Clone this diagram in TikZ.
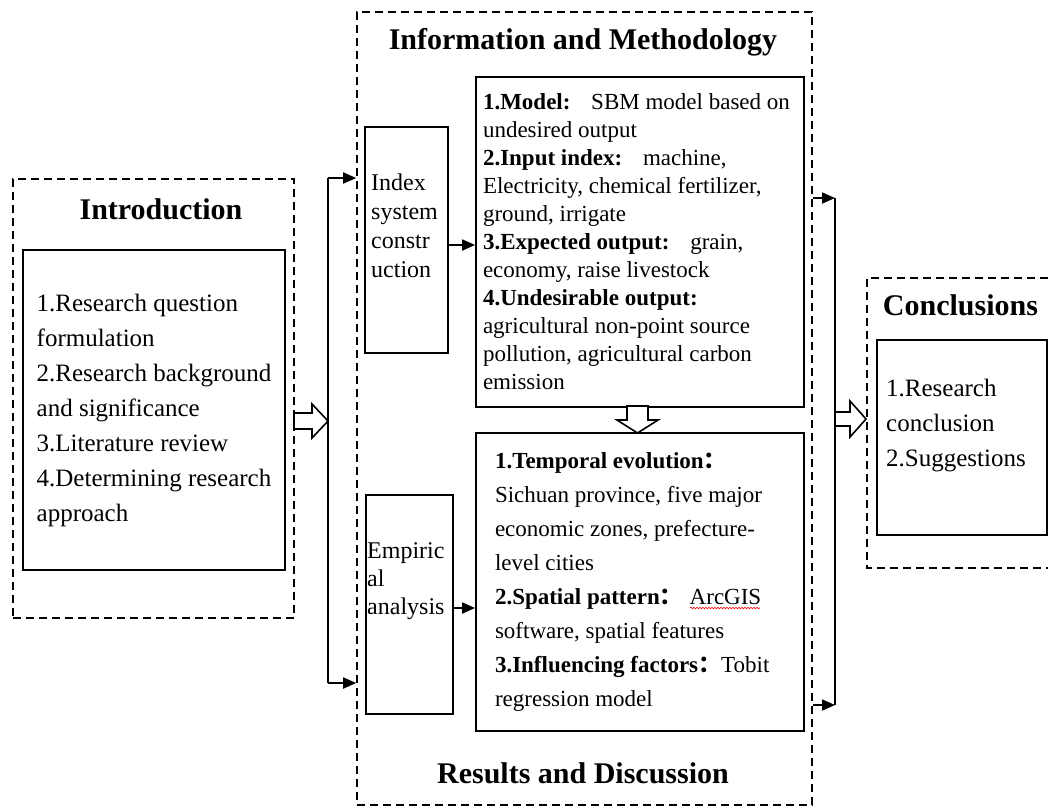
\documentclass[tikz,border=0pt]{standalone}
\usepackage{fontspec}
\setmainfont{Liberation Serif}
\newfontfamily\cjk{Noto Sans CJK SC}
\usetikzlibrary{arrows.meta,decorations.pathmorphing}

\tikzset{
  frame/.style={draw, dash pattern=on 8pt off 5pt, line width=1.6pt},
  box/.style={draw, line width=1.8pt, inner sep=0pt},
  title/.style={font=\fontsize{30}{36}\selectfont\bfseries, inner sep=0pt},
  body/.style={align=flush left, inner sep=0pt},
  link/.style={line width=1.8pt, -{Triangle[length=13pt,width=11pt]}},
  fat/.style={draw, line width=1.6pt, fill=white, line join=miter},
}

\begin{document}
\begin{tikzpicture}[x=1pt,y=-1pt]
\useasboundingbox (0,0) rectangle (1048,807);

% introduction
\node[frame, minimum width=281, minimum height=439] (introframe) at (153.5,398.5) {};
\node[title] (introtitle) at (161,209) {Introduction};
\node[box, minimum width=262, minimum height=320, body, font=\fontsize{25}{35}\selectfont] (intro) at (154,410)
  {1.Research question\\formulation\\2.Research background\\and significance\\3.Literature review\\4.Determining research\\approach};

% information and methodology / results
\node[frame, minimum width=455, minimum height=793] (methframe) at (584.5,408.5) {};
\node[title] (methtitle) at (583,42) {Information and Methodology};
\node[title] (restitle) at (583,773) {Results and Discussion};

\node[box, minimum width=83, minimum height=226] (index) at (406.5,240) {};
\node[body, anchor=west, font=\fontsize{24}{29}\selectfont] (indextext) at (371,225.5) {Index\\system\\constr\\uction};
\node[box, minimum width=87, minimum height=219] (empir) at (409.5,604.5) {};
\node[body, anchor=west, font=\fontsize{24}{28}\selectfont] (empirtext) at (367,581) {Empiric\\al\\analysis};

\node[box, minimum width=328, minimum height=330, body, text width=314, font=\fontsize{23}{28}\selectfont] (model) at (640,242)
  {{\bfseries 1.Model:}\hspace{0.9em}SBM model based on\\undesired output\\
   {\bfseries 2.Input index:}\hspace{0.9em}machine,\\Electricity, chemical fertilizer,\\ground, irrigate\\
   {\bfseries 3.Expected output:}\hspace{0.9em}grain,\\economy, raise livestock\\
   {\bfseries 4.Undesirable output:}\\agricultural non-point source\\pollution, agricultural carbon\\emission};
\node[box, minimum width=328, minimum height=298, body, text width=290, font=\fontsize{23}{34}\selectfont] (results) at (640,582)
  {{\bfseries 1.Temporal evolution\cjk{：}}\\Sichuan province, five major\\economic zones, prefecture-\\level cities\\
   {\bfseries 2.Spatial pattern\cjk{：}}\hspace{0.3em}ArcGIS\\software, spatial features\\
   {\bfseries 3.Influencing factors\cjk{：}}Tobit\\regression model};
\draw[red, line width=0.6pt, decorate, decoration={snake, amplitude=0.8pt, segment length=3pt}] (690,608) -- (760,608);

% conclusions
\draw[frame] (1048,278) -| (867,568) -- (1048,568);
\node[title] (conctitle) at (960.5,305) {Conclusions};
\node[box, minimum width=170, minimum height=195] (conc) at (962,437.5) {};
\node[body, anchor=west, font=\fontsize{25}{35}\selectfont] (conctext) at (886,426) {1.Research\\conclusion\\2.Suggestions};

% brackets and arrows
\coordinate (ltop) at (328,178);
\coordinate (lbot) at (328,683);
\draw[line width=1.8pt] (ltop) -- (lbot);
\draw[link] (ltop) -- (ltop -| methframe.west);
\draw[link] (lbot) -- (lbot -| methframe.west);

\coordinate (rtop) at (835,198);
\coordinate (rbot) at (835,705);
\draw[line width=1.8pt] (rtop) -- (rbot);
\draw[link] (rtop -| methframe.east) -- (rtop);
\draw[link] (rbot -| methframe.east) -- (rbot);

\draw[link] ([yshift=-5pt]index.east) -- ([yshift=-5pt]index.east -| model.west);
\draw[link] ([yshift=-3.5pt]empir.east) -- ([yshift=-3.5pt]empir.east -| results.west);

\draw[fat] (294,413) -- (312,413) -- (312,404) -- (328,421) -- (312,438) -- (312,429) -- (294,429) -- cycle;
\draw[fat] (627,406) -- (627,420) -- (617,420) -- (637.5,433) -- (658,420) -- (648,420) -- (648,406) -- cycle;
\draw[fat] (835,412) -- (850,412) -- (850,401) -- (866,419) -- (850,437) -- (850,426) -- (835,426) -- cycle;
\end{tikzpicture}
\end{document}
